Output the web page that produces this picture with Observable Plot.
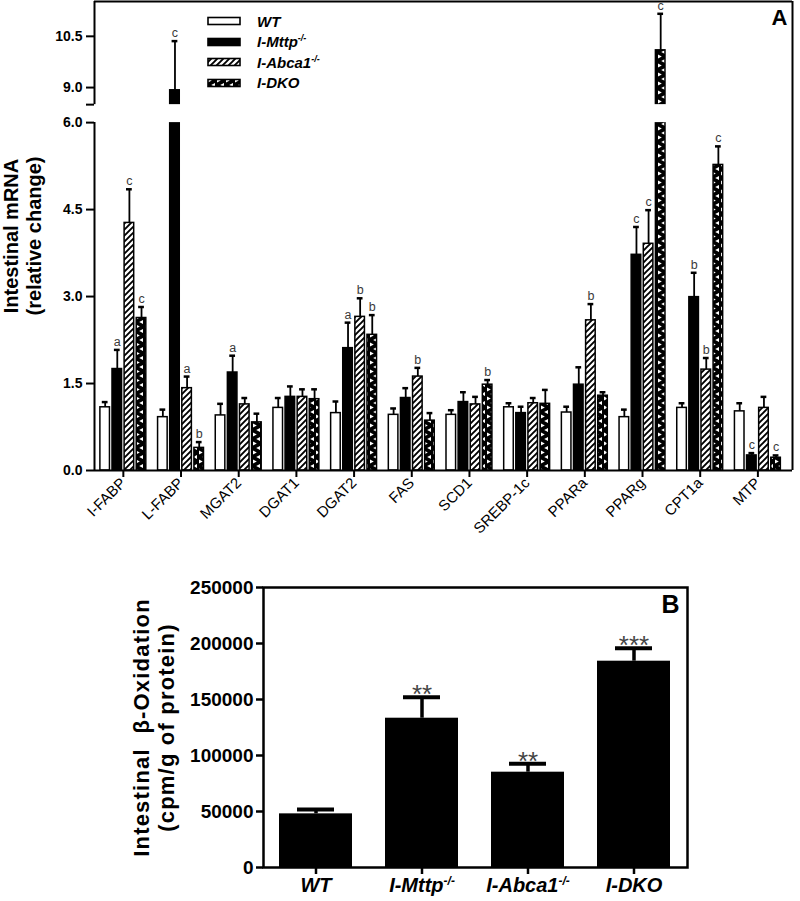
<!DOCTYPE html>
<html><head><meta charset="utf-8">
<script src="https://cdn.jsdelivr.net/npm/d3@7"></script>
<script src="https://cdn.jsdelivr.net/npm/@observablehq/plot@0.6"></script>
<style>
body{margin:0;background:#fff;font-family:"Liberation Sans",Arial,sans-serif;}
#wrap{position:relative;width:800px;height:901px;overflow:hidden;}
#a{position:absolute;left:0;top:0;}
#b{position:absolute;left:0;top:540px;}
#legend{position:absolute;left:207px;top:11px;font:italic bold 15px "Liberation Sans",Arial,sans-serif;}
#legend .row{height:20.5px;display:flex;align-items:center;}
#legend .row svg{margin-right:16px;display:block;}
#legend sup{font-size:9px;vertical-align:6px;line-height:0;}
</style>
</head><body>
<div id="wrap"><div id="a"></div><div id="b"></div><div id="legend"></div></div>
<script>
// ---------- Panel A data ----------
const genes = ["I-FABP","L-FABP","MGAT2","DGAT1","DGAT2","FAS","SCD1","SREBP-1c","PPARa","PPARg","CPT1a","MTP"];
const series = ["WT","I-Mttp","I-Abca1","I-DKO"];
const seriesSup = ["","-/-","-/-",""];
const wtMean    = [1.09,0.92,0.95,1.08,0.99,0.96,0.96,1.09,1.00,0.92,1.08,1.02];
const wtSem     = [0.09,0.13,0.20,0.17,0.20,0.11,0.08,0.07,0.10,0.13,0.08,0.14];
const mttpMean  = [1.75,8.92,1.69,1.27,2.11,1.25,1.18,0.99,1.48,3.72,2.99,0.26];
const mttpSem   = [0.33,1.44,0.29,0.18,0.44,0.17,0.17,0.11,0.30,0.48,0.42,0.04];
const abcaMean  = [4.27,1.42,1.14,1.27,2.65,1.62,1.14,1.16,2.59,3.91,1.74,1.08];
const abcaSem   = [0.58,0.20,0.11,0.13,0.32,0.15,0.13,0.09,0.28,0.58,0.20,0.19];
const dkoMean   = [2.63,0.39,0.83,1.23,2.34,0.86,1.48,1.15,1.29,10.09,5.27,0.22];
const dkoSem    = [0.19,0.10,0.15,0.17,0.34,0.13,0.08,0.24,0.06,1.07,0.32,0.04];
const wtLetter   = ["","","","","","","","","","","",""];
const mttpLetter = ["a","c","a","","a","","","","","c","b","c"];
const abcaLetter = ["c","a","","","b","b","","","b","c","b",""];
const dkoLetter  = ["c","b","","","b","","b","","","c","c","c"];
const yTicksA = [0,1.5,3,4.5,6,8.5,9,10.5];
const yBreak = [6, 8.5];
const yTopA = 11.52;

// ---------- Panel B data ----------
const groupsB = ["WT","I-Mttp","I-Abca1","I-DKO"];
const supB = ["","-/-","-/-",""];
const oxMean = [47900,133300,85100,184200];
const oxErr  = [3900,18700,7500,11600];
const oxStars = ["","**","**","***"];
const yTicksB = [0,50000,100000,150000,200000,250000];

// ---------- build rows ----------
const means = [wtMean, mttpMean, abcaMean, dkoMean];
const sems = [wtSem, mttpSem, abcaSem, dkoSem];
const letters = [wtLetter, mttpLetter, abcaLetter, dkoLetter];
const rows = [];
genes.forEach((g,i)=>series.forEach((s,j)=>rows.push({gene:g, gi:i, sj:j, mean:means[j][i], sem:sems[j][i], letter:letters[j][i]})));
const off = [-0.315,-0.105,0.105,0.315];
const half = 0.083, cap = 0.05;
const xPos = d => d.gi + off[d.sj];
const fills = ["white","black","url(#hatch)","url(#dko)"];
const xDomA = [-0.5, 11.6];
const font = "'Liberation Sans', Arial, sans-serif";

// broken-axis transform: upper segment compressed, small gap between segments
const gapUnits = 0.31, upperScale = 0.589;
const brk = v => v <= yBreak[0] ? v
  : v >= yBreak[1] ? yBreak[0] + gapUnits + (v - yBreak[1]) * upperScale
  : yBreak[0] + (v - yBreak[0]) / (yBreak[1] - yBreak[0]) * gapUnits;
// axis tick channels are not passed through the scale transform, so give them transformed positions
const tickPosA = yTicksA.map(brk);
const tickLabelA = new Map(yTicksA.map(t => [brk(t), t === 8.5 ? "" : t.toFixed(1)]));

const A = Plot.plot({
  width: 800, height: 540,
  marginLeft: 94, marginRight: 8, marginTop: 1, marginBottom: 70,
  x: {type: "linear", domain: xDomA, axis: null},
  y: {type: "linear", transform: brk, axis: null},
  style: {fontFamily: font, background: "white", overflow: "visible"},
  marks: [
    ...series.map((s,j) => Plot.rectY(rows.filter(d=>d.sj===j), {
      x1: d => xPos(d)-half, x2: d => xPos(d)+half, y1: 0, y2: "mean",
      fill: fills[j], stroke: "black", strokeWidth: 1.5
    })),
    Plot.rect([yBreak], {x1: xDomA[0], x2: xDomA[1], y1: d=>d[0], y2: d=>d[1], fill: "white"}),
    Plot.ruleX(rows, {x: xPos, y1: "mean", y2: d=>d.mean+d.sem, strokeWidth: 1.8}),
    Plot.ruleY(rows, {y: d=>d.mean+d.sem, x1: d=>xPos(d)-cap, x2: d=>xPos(d)+cap, strokeWidth: 2.5}),
    Plot.text(rows.filter(d=>d.letter), {x: xPos, y: d=>d.mean+d.sem, text: "letter", dy: -8, fontSize: 12.5, fill: "#3a3a3a"}),
    Plot.ruleX([[0, yBreak[0]], [yBreak[1], yTopA]], {x: xDomA[0], y1: d=>d[0], y2: d=>d[1], strokeWidth: 2}),
    Plot.ruleX([xDomA[1]], {y1: 0, y2: yTopA, strokeWidth: 2}),
    Plot.ruleY([0], {x1: xDomA[0], x2: xDomA[1], strokeWidth: 2}),
    Plot.ruleY([yTopA], {x1: xDomA[0], x2: xDomA[1], strokeWidth: 2}),
    Plot.axisY({ticks: tickPosA, tickFormat: v => tickLabelA.get(v), tickSize: 8, tickPadding: 4, fontSize: 14, fontWeight: "bold", strokeWidth: 2, label: null}),
    Plot.axisX({ticks: d3.range(genes.length), tickFormat: i => genes[i], tickRotate: -45, tickSize: 7, tickPadding: 3, fontSize: 15, strokeWidth: 2, label: null}),
    Plot.text(["Intestinal mRNA\n(relative change)"], {frameAnchor: "left", textAnchor: "middle", rotate: -90, dx: -72, fontSize: 20, fontWeight: "bold", lineHeight: 1.15}),
    Plot.text(["A"], {frameAnchor: "top-right", dx: -5, dy: 8, fontSize: 22, fontWeight: "bold", lineAnchor: "top"})
  ]
});
d3.select(A).insert("defs", ":first-child").html(`
  <pattern id="hatch" patternUnits="userSpaceOnUse" width="6" height="6">
    <rect width="6" height="6" fill="white"/>
    <path d="M-1,1 l2,-2 M0,6 l6,-6 M5,7 l2,-2" stroke="black" stroke-width="1.9"/>
  </pattern>
  <pattern id="dko" patternUnits="userSpaceOnUse" width="9" height="9">
    <rect width="9" height="9" fill="black"/>
    <path d="M1,0.6 L4.8,2.5 L1,4.4 Z M8,5.1 L4.2,7 L8,8.9 Z" fill="white"/>
  </pattern>`);
document.getElementById("a").appendChild(A);

// legend
const leg = d3.select("#legend");
series.forEach((s,j) => {
  const r = leg.append("div").attr("class","row");
  r.append("svg").attr("width",34).attr("height",10).html(`<rect x="1" y="1.5" width="32" height="7" fill="${fills[j]}" stroke="black" stroke-width="1.6"/>`);
  const sp = r.append("span").text(s);
  if (seriesSup[j]) sp.append("sup").text(seriesSup[j]);
});

// ---------- Panel B ----------
const bRows = groupsB.map((g,i)=>({g, mean: oxMean[i], err: oxErr[i], stars: oxStars[i]}));
const B = Plot.plot({
  width: 800, height: 361,
  marginLeft: 263, marginRight: 113, marginTop: 47, marginBottom: 34,
  x: {domain: groupsB, paddingInner: 0.31, paddingOuter: 0.155, axis: null},
  y: {domain: [0, 250000], axis: null},
  style: {fontFamily: font, background: "white", overflow: "visible"},
  marks: [
    Plot.barY(bRows, {x: "g", y: "mean", fill: "black"}),
    Plot.ruleX(bRows, {x: "g", y1: "mean", y2: d=>d.mean+d.err, strokeWidth: 3.5}),
    Plot.tickY(bRows, {x: "g", y: d=>d.mean+d.err, strokeWidth: 4, insetLeft: 18, insetRight: 18}),
    Plot.text(bRows, {x: "g", y: d=>d.mean+d.err, text: "stars", dy: 6, lineAnchor: "bottom", fontSize: 26, fill: "#444"}),
    Plot.frame({strokeWidth: 2.5}),
    Plot.axisY({ticks: yTicksB, tickFormat: d => String(d), tickSize: 7, tickPadding: 3, fontSize: 19, fontWeight: "bold", strokeWidth: 2.5, label: null}),
    Plot.axisX({tickSize: 7, tickPadding: 3, fontSize: 20, fontWeight: "bold", fontStyle: "italic", strokeWidth: 2.5, label: null}),
    Plot.text(["Intestinal  \u03b2-Oxidation\n(cpm/g of protein)"], {frameAnchor: "left", textAnchor: "middle", rotate: -90, dx: -110, fontSize: 22, fontWeight: "bold", lineHeight: 1.15}),
    Plot.text(["B"], {frameAnchor: "top-right", dx: -8, dy: 8, fontSize: 25, fontWeight: "bold", lineAnchor: "top"})
  ]
});
d3.select(B).selectAll('[aria-label="x-axis tick label"] text').each(function(){
  const k = groupsB.indexOf(this.textContent);
  if (k >= 0 && supB[k]) d3.select(this).append("tspan").attr("dy","-0.55em").attr("font-size","60%").text(supB[k]);
});
d3.select(B).selectAll("text").filter(function(){ return this.textContent.includes("Oxidation"); }).style("letter-spacing", "1.2px");
document.getElementById("b").appendChild(B);
</script>
</body></html>
